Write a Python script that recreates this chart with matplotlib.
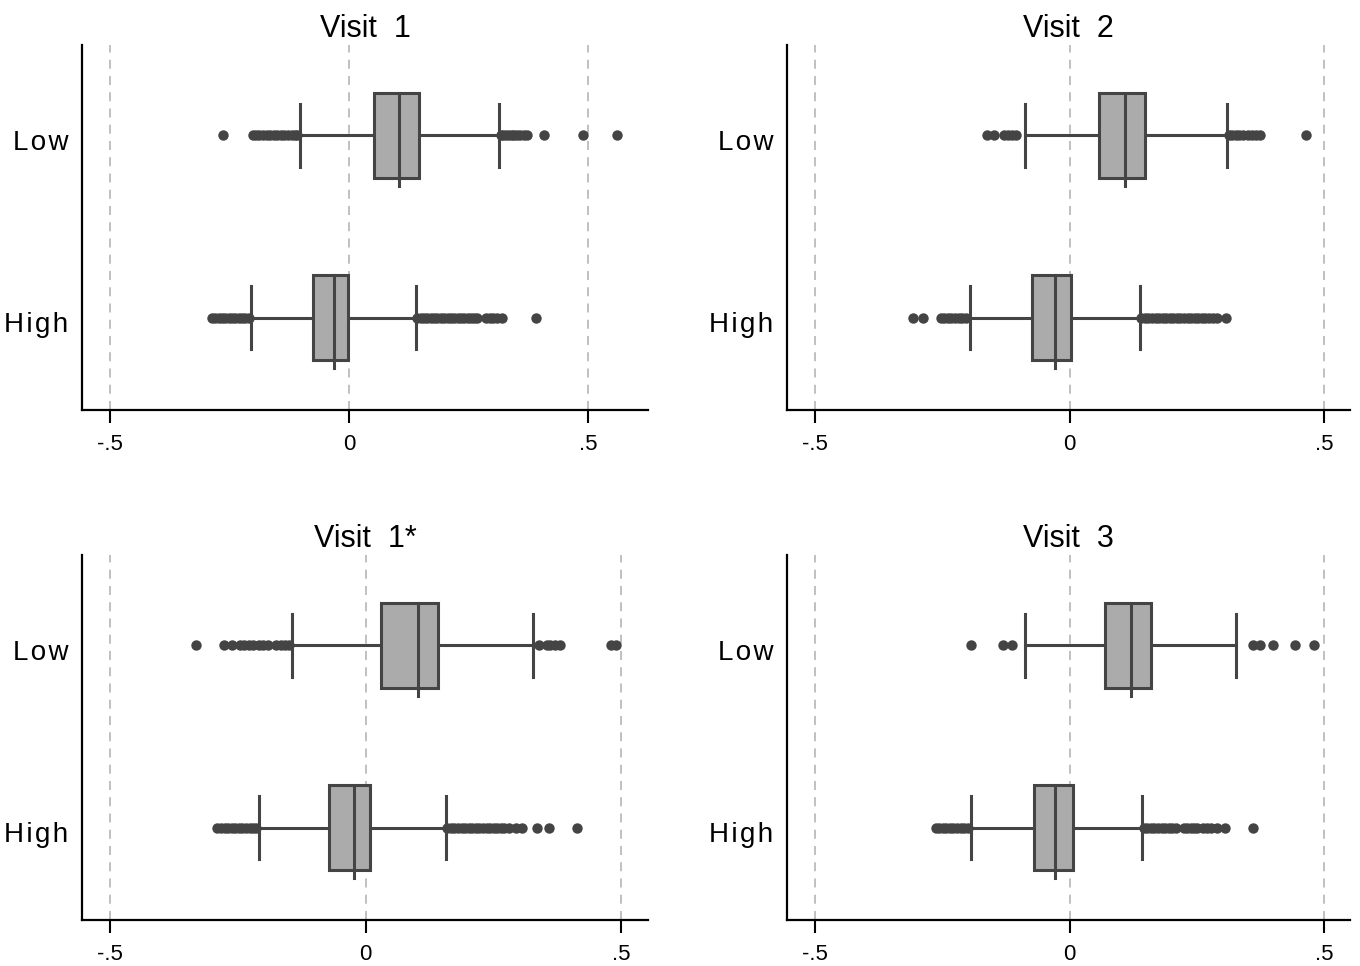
import matplotlib.pyplot as plt
from matplotlib.patches import Rectangle
from matplotlib.transforms import ScaledTranslation

plt.rcParams['font.family'] = ['Liberation Sans', 'DejaVu Sans']

titles = ['Visit  1', 'Visit  2', 'Visit  1*', 'Visit  3']
groups = ['Low', 'High']

# box stats per panel: [Low, High] -> (whisker lo, q1, median, q3, whisker hi)
stats = {
    'Visit  1': [(-0.103, 0.052, 0.105, 0.146, 0.314),
                 (-0.205, -0.075, -0.031, -0.002, 0.140)],
    'Visit  2': [(-0.088, 0.057, 0.110, 0.149, 0.310),
                 (-0.196, -0.073, -0.029, 0.002, 0.138)],
    'Visit  1*': [(-0.143, 0.031, 0.102, 0.141, 0.327),
                  (-0.209, -0.072, -0.023, 0.008, 0.157)],
    'Visit  3': [(-0.088, 0.069, 0.120, 0.161, 0.328),
                 (-0.193, -0.069, -0.029, 0.006, 0.143)],
}

outliers = {
    'Visit  1': [
        [-0.264, -0.201, -0.195, -0.188, -0.180, -0.172, -0.165, -0.158, -0.150,
         -0.143, -0.136, -0.128, -0.120, -0.113, -0.108,
         0.318, 0.323, 0.328, 0.334, 0.340, 0.346, 0.352, 0.358, 0.366, 0.372,
         0.408, 0.489, 0.561],
        [-0.287, -0.280, -0.273, -0.266, -0.259, -0.252, -0.245, -0.238, -0.231,
         -0.224, -0.217, -0.210,
         0.143, 0.150, 0.157, 0.164, 0.171, 0.178, 0.185, 0.192, 0.199, 0.206,
         0.213, 0.220, 0.227, 0.234, 0.241, 0.248, 0.255, 0.262, 0.268,
         0.287, 0.294, 0.301, 0.310, 0.320, 0.391],
    ],
    'Visit  2': [
        [-0.163, -0.149, -0.128, -0.120, -0.112, -0.106,
         0.313, 0.320, 0.327, 0.334, 0.341, 0.350, 0.358, 0.366, 0.374, 0.464],
        [-0.308, -0.287, -0.253, -0.246, -0.239, -0.232, -0.225, -0.218, -0.211,
         -0.204,
         0.141, 0.148, 0.155, 0.162, 0.169, 0.176, 0.183, 0.190, 0.197, 0.204,
         0.211, 0.218, 0.225, 0.232, 0.239, 0.246, 0.253, 0.260, 0.267, 0.274,
         0.281, 0.290, 0.308],
    ],
    'Visit  1*': [
        [-0.331, -0.277, -0.262, -0.245, -0.237, -0.228, -0.220, -0.208, -0.200,
         -0.190, -0.175, -0.166, -0.158, -0.150,
         0.339, 0.355, 0.362, 0.370, 0.380, 0.480, 0.490],
        [-0.290, -0.283, -0.276, -0.269, -0.262, -0.255, -0.248, -0.241, -0.234,
         -0.227, -0.220, -0.215,
         0.160, 0.167, 0.174, 0.181, 0.188, 0.195, 0.202, 0.209, 0.216, 0.223,
         0.230, 0.237, 0.244, 0.251, 0.258, 0.265, 0.272, 0.280,
         0.294, 0.307, 0.335, 0.360, 0.413],
    ],
    'Visit  3': [
        [-0.193, -0.130, -0.112,
         0.360, 0.375, 0.399, 0.444, 0.481],
        [-0.263, -0.256, -0.249, -0.242, -0.235, -0.228, -0.221, -0.214, -0.207,
         -0.200,
         0.146, 0.153, 0.160, 0.167, 0.174, 0.181, 0.188, 0.195, 0.202, 0.209,
         0.224, 0.231, 0.238, 0.245, 0.251, 0.262, 0.270, 0.278, 0.290,
         0.306, 0.360],
    ],
}

xlims = {
    'Visit  1': (-0.5586, 0.6255),
    'Visit  2': (-0.555, 0.551),
    'Visit  1*': (-0.555, 0.553),
    'Visit  3': (-0.555, 0.551),
}

xticks = [-0.5, 0, 0.5]
xticklabels = ['-.5', '0', '.5']

edge = '#444444'
fill = '#ababab'

fig = plt.figure(figsize=(13.6, 9.66), dpi=100)
positions = [
    [0.0603, 0.5756, 0.4162, 0.3778],
    [0.5787, 0.5756, 0.4139, 0.3778],
    [0.0603, 0.0476, 0.4162, 0.3779],
    [0.5787, 0.0476, 0.4139, 0.3779],
]

ypos = [1, 0]  # Low on top, High below
box_h = 0.47
cap_h = 0.344

for title, pos in zip(titles, positions):
    ax = fig.add_axes(pos)
    for x in xticks:
        ax.axvline(x, color='#bbbbbb', lw=1.3, ls=(0, (5, 4)), zorder=0)
    for y, st, outs in zip(ypos, stats[title], outliers[title]):
        wlo, q1, med, q3, whi = st
        ax.plot([wlo, q1], [y, y], color=edge, lw=2.2, zorder=2)
        ax.plot([q3, whi], [y, y], color=edge, lw=2.2, zorder=2)
        ax.plot([wlo, wlo], [y - cap_h / 2, y + cap_h / 2], color=edge, lw=2.2, zorder=3)
        ax.plot([whi, whi], [y - cap_h / 2, y + cap_h / 2], color=edge, lw=2.2, zorder=3)
        ax.add_patch(Rectangle((q1, y - box_h / 2), q3 - q1, box_h,
                               facecolor=fill, edgecolor=edge, lw=2.2, zorder=4))
        ax.plot([med, med], [y - box_h / 2 - 0.04, y + box_h / 2], color=edge,
                lw=2.2, zorder=5)
        ax.plot(outs, [y] * len(outs), 'o', color=edge, ms=7.5, mew=0, zorder=3)

    ax.set_xlim(*xlims[title])
    ax.set_ylim(-0.508, 1.497)
    ax.set_xticks(xticks)
    ax.set_xticklabels(xticklabels, fontsize=16)
    ax.set_yticks(ypos)
    ax.set_yticklabels(['\u200a'.join(g) for g in groups], fontsize=20)
    ax.tick_params(axis='y', length=0, pad=10)
    ax.tick_params(axis='x', length=9, width=1.5, pad=8)
    # Stata-style labels sit a little below the box centre
    shift = ScaledTranslation(0, -3 / 72, fig.dpi_scale_trans)
    for lab in ax.get_yticklabels():
        lab.set_transform(lab.get_transform() + shift)
    ax.spines['top'].set_visible(False)
    ax.spines['right'].set_visible(False)
    ax.spines['left'].set_linewidth(1.6)
    ax.spines['bottom'].set_linewidth(1.6)
    ax.set_title(title, fontsize=22, pad=6)

fig.savefig('out.png', dpi=100)
